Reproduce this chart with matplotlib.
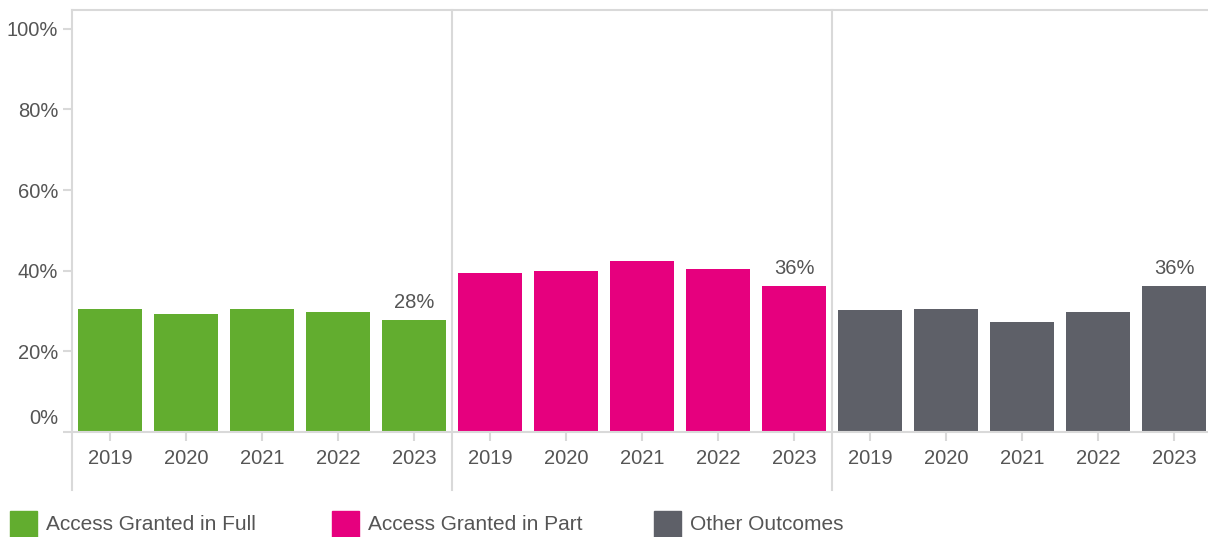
import matplotlib.pyplot as plt
from matplotlib.patches import Rectangle
from matplotlib.transforms import ScaledTranslation

plt.rcParams['font.family'] = ['Liberation Sans', 'DejaVu Sans']

# Data
jaren = ['2019', '2020', '2021', '2022', '2023']
skupine = ['Access Granted in Full', 'Access Granted in Part', 'Other Outcomes']
full = [30.5, 29.3, 30.5, 29.8, 27.8]
part = [39.5, 40.0, 42.4, 40.4, 36.2]
other = [30.3, 30.5, 27.4, 29.8, 36.2]
oznake = ['28%', '36%', '36%']   # label on last bar of each group
barve = ['#62AD2F', '#E6007E', '#5E6068']

siva = '#D9D9D9'
tekst = '#555555'

fig = plt.figure(figsize=(12.08, 5.37), dpi=100)
ax = fig.add_axes([72 / 1208, 105 / 537, 1140 / 1208, 422.5 / 537])

vrednosti = [full, part, other]
for g, serija in enumerate(vrednosti):
    xs = [g * len(jaren) + i for i in range(len(jaren))]
    ax.bar(xs, serija, width=0.83, color=barve[g])
    ax.annotate(oznake[g], (xs[-1], serija[-1]), xytext=(0, 5.5),
                textcoords='offset points', ha='center', va='bottom',
                fontsize=14.5, color=tekst)

n = len(jaren) * len(skupine)
ax.set_xlim(-0.5, n - 0.5)
ax.set_ylim(0, 104.8)

ax.set_xticks(range(n))
ax.set_xticklabels(jaren * len(skupine))
ax.set_yticks([0, 20, 40, 60, 80, 100])
ax.set_yticklabels(['0%', '20%', '40%', '60%', '80%', '100%'])
ax.tick_params(axis='both', colors=siva, labelcolor=tekst, labelsize=14.5,
               length=6.5, width=1.5)
ax.tick_params(axis='x', pad=6)
ax.tick_params(axis='y', pad=3.5)

# 0% label sits a bit higher
lbl0 = ax.get_yticklabels()[0]
lbl0.set_transform(lbl0.get_transform() + ScaledTranslation(0, 15 / 100, fig.dpi_scale_trans))

for s in ['left', 'right']:
    ax.spines[s].set_visible(False)
for s in ['top', 'bottom']:
    ax.spines[s].set_color(siva)
    ax.spines[s].set_linewidth(1.5)

# separators + left axis, extending below the axis
for x in [-0.5, 4.5, 9.5]:
    ax.axvline(x, ymin=-0.137, ymax=1, color=siva, lw=1.5, clip_on=False)

# legend
for g, ime in enumerate(skupine):
    x0 = 10 + g * 322
    fig.patches.append(Rectangle((x0 / 1208, 0 / 537), 27 / 1208, 26 / 537,
                                 transform=fig.transFigure, color=barve[g]))
    fig.text((x0 + 36) / 1208, 12 / 537, ime, ha='left', va='center',
             fontsize=15, color=tekst)

fig.savefig('out.png', dpi=100)
